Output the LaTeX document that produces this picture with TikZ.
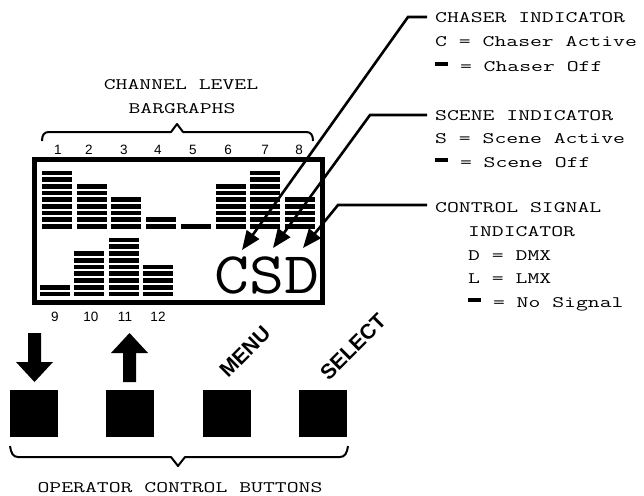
\documentclass[tikz,border=0pt]{standalone}
\usepackage{fontspec}
\usepackage{graphicx}
\usetikzlibrary{arrows.meta}
\newfontfamily\sansA{Liberation Sans}
\newcommand\mtx[1]{\scalebox{1.44}[1]{\fontsize{16}{18}\selectfont\ttfamily #1}}
\newcommand\blk{\rule[5.5pt]{9pt}{3.8pt}}
\begin{document}
\begin{tikzpicture}[x=1pt,y=-1pt]
\useasboundingbox (0,0) rectangle (644,495);
\tikzset{
 lbl/.style={anchor=base west, inner sep=0pt},
 ctr/.style={anchor=base, inner sep=0pt},
 num/.style={font=\sansA\fontsize{13.5}{15}\selectfont, inner sep=0pt},
 lead/.style={line width=2.6pt, -{Triangle[length=19pt,width=15pt]}},
 brc/.style={line width=2pt, line join=round},
 btn/.style={fill=black, minimum width=48pt, minimum height=47pt, inner sep=0pt},
 rot/.style={font=\sansA\bfseries\fontsize{21}{23}\selectfont, rotate=45, inner sep=0pt},
}
% display box
\draw[line width=4.5pt] (34.5,159.5) rectangle (322.5,302.5);
% top bargraphs
\foreach \n [count=\i] in {9,7,5,2,1,7,9,5} {
  \foreach \k in {1,...,\n} {
    \fill ({42+34.7*(\i-1)},{224-6.67*(\k-1)}) rectangle ++(30,4.7);
  }
}
% bottom bargraphs
\foreach \n [count=\i] in {2,7,9,5} {
  \foreach \k in {1,...,\n} {
    \fill ({40+34.3*(\i-1)},{291.7-6.75*(\k-1)}) rectangle ++(30,4.7);
  }
}
% channel numbers
\foreach \x [count=\i] in {58,89,124,158,193,228,265,299} {
  \node[num] (n\i) at (\x,150) {\i};
}
\node[num] (n9) at (55,317) {9};
\node[num] (n10) at (91,317) {10};
\node[num] (n11) at (125,317) {11};
\node[num] (n12) at (158,317) {12};
% CSD
\node[lbl] (csd) at (214,293) {\scalebox{1.15}[1]{\fontsize{59}{60}\selectfont\ttfamily CSD}};
% top brace and title
\draw[brc] (42,141) .. controls (42,135) and (44,132) .. (49,132) -- (171,132) -- (177,124) -- (183,132) -- (306,132) .. controls (311,132) and (313,135) .. (313,141);
\node[ctr] (t1) at (181,89) {\mtx{CHANNEL LEVEL}};
\node[ctr] (t2) at (182,113) {\mtx{BARGRAPHS}};
% right labels
\node[lbl] (c1) at (435,23) {\mtx{CHASER INDICATOR}};
\node[lbl] (c2) at (435,47) {\mtx{C = Chaser Active}};
\node[lbl] (c3) at (435,71) {\mtx{\blk{} = Chaser Off}};
\node[lbl] (s1) at (435,120) {\mtx{SCENE INDICATOR}};
\node[lbl] (s2) at (435,143.5) {\mtx{S = Scene Active}};
\node[lbl] (s3) at (435,167) {\mtx{\blk{} = Scene Off}};
\node[lbl] (d1) at (435,212) {\mtx{CONTROL SIGNAL}};
\node[lbl] (d2) at (468,236) {\mtx{INDICATOR}};
\node[lbl] (d3) at (468,260) {\mtx{D = DMX}};
\node[lbl] (d4) at (468,283.5) {\mtx{L = LMX}};
\node[lbl] (d5) at (468,307) {\mtx{\blk{} = No Signal}};
% leaders
\coordinate (e1) at (427,17);  \coordinate (k1) at (408,17);  \coordinate (p1) at (242,250);
\coordinate (e2) at (427,115); \coordinate (k2) at (370,115); \coordinate (p2) at (273,248);
\coordinate (e3) at (427,205); \coordinate (k3) at (338,205); \coordinate (p3) at (303,248);
\draw[lead] (e1) -- (k1) -- (p1);
\draw[lead] (e2) -- (k2) -- (p2);
\draw[lead] (e3) -- (k3) -- (p3);
% buttons
\node[btn] (b1) at (34,413.5) {};
\node[btn] (b2) at (130,413.5) {};
\node[btn] (b3) at (227,413.5) {};
\node[btn] (b4) at (323,413.5) {};
% arrows on buttons
\fill (28,333) -- (41,333) -- (41,362) -- (53,362) -- (34.5,382) -- (16,362) -- (28,362) -- cycle;
\fill (129.5,333) -- (148,353) -- (136,353) -- (136,382) -- (123,382) -- (123,353) -- (111,353) -- cycle;
\node[rot] (menu) at (245,352) {MENU};
\node[rot] (sel) at (353,347) {SELECT};
% bottom brace and title
\draw[brc] (10,446) .. controls (11,453) and (13,457) .. (18,457) -- (171,457) -- (178,466) -- (185,457) -- (340,457) .. controls (345,457) and (347,453) .. (348,446);
\node[ctr] (ob) at (180,492) {\mtx{OPERATOR CONTROL BUTTONS}};
\end{tikzpicture}
\end{document}
